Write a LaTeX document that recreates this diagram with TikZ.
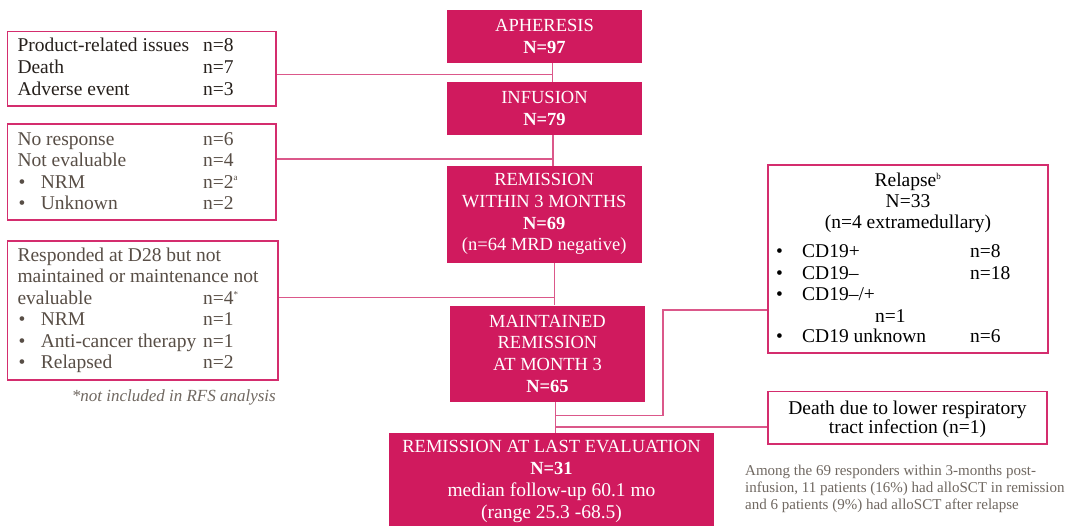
\documentclass[tikz,border=0pt]{standalone}
\usepackage{fontspec}
\setmainfont{Liberation Serif}
\definecolor{mag}{RGB}{208,26,94}
\definecolor{edge}{RGB}{212,45,110}
\definecolor{conncol}{RGB}{219,88,138}
\definecolor{txtA}{RGB}{38,32,28}
\definecolor{txtB}{RGB}{88,78,70}
\definecolor{txtC}{RGB}{112,104,97}
\newcommand{\fsL}{\fontsize{19.5}{21.7}\selectfont}
\newcommand{\fsC}{\fontsize{18.5}{21.7}\selectfont}
\newcommand{\fsS}{\fontsize{15}{17}\selectfont}
\newcommand{\fsF}{\fontsize{17}{19}\selectfont}
\tikzset{
  magbox/.style={fill=mag, draw=none, text=white, align=center, inner sep=0, font=\fsC},
  outbox/.style={draw=edge, line width=1.1pt, fill=white, inner sep=0},
  conn/.style={draw=conncol, line width=1.2pt},
  tl/.style={anchor=base west, inner sep=0, font=\fsL},
  tc/.style={anchor=base, inner sep=0, font=\fsL},
}
\begin{document}
\begin{tikzpicture}[x=1pt,y=-1pt]
\useasboundingbox[fill=white] (0,0) rectangle (1068,526);
% centre column
\node[magbox, minimum width=195pt, minimum height=53pt] (aph) at (544.5,36.5) {APHERESIS\\\textbf{N=97}};
\node[magbox, minimum width=195pt, minimum height=53pt] (inf) at (544.5,108.5) {INFUSION\\\textbf{N=79}};
\node[magbox, minimum width=195pt, minimum height=96.7pt] (rem) at (544.2,214.3) {REMISSION\\WITHIN 3 MONTHS\\\textbf{N=69}\\(n=64 MRD negative)};
\node[magbox, minimum width=195pt, minimum height=96pt] (mnt) at (547.5,353.7) {MAINTAINED\\REMISSION\\AT MONTH 3\\\textbf{N=65}};
\node[magbox, minimum width=325pt, minimum height=97pt] (last) at (551.5,481.5) {REMISSION AT LAST EVALUATION\\\textbf{N=31}\\{\fontsize{19.5}{21.7}\selectfont median follow-up 60.1 mo}\\{\fontsize{19.5}{21.7}\selectfont (range 25.3 -68.5)}};
% left boxes
\node[outbox, minimum width=268.5pt, minimum height=74.5pt] (b1) at (141.75,68.75) {};
\node[outbox, minimum width=268.5pt, minimum height=96pt] (b2) at (141.75,172) {};
\node[outbox, minimum width=270.5pt, minimum height=139pt] (b3) at (142.75,310.5) {};
% right boxes
\node[outbox, minimum width=280pt, minimum height=188pt] (rel) at (908,259) {};
\node[outbox, minimum width=279pt, minimum height=52.5pt] (dth) at (907.5,417.75) {};
% connector points
\coordinate (t1) at (552.5,0);
\coordinate (t2) at (553,0);
\coordinate (t3) at (554.5,0);
\coordinate (t4) at (555.5,0);
\coordinate (h1) at (552.5,74.5);
\coordinate (h2) at (553,159);
\coordinate (h3) at (554.5,297.5);
\coordinate (h4) at (555.5,415.5);
\coordinate (k1) at (663,415.5);
\coordinate (k2) at (663,310);
\coordinate (h5) at (555.5,427);
% trunk
\draw[conn] (aph.south -| t1) -- (inf.north -| t1);
\draw[conn] (inf.south -| t2) -- (rem.north -| t2);
\draw[conn] (rem.south -| t3) -- (mnt.north -| t3);
\draw[conn] (mnt.south -| t4) -- (last.north -| t4);
% side links
\draw[conn] (b1.east |- h1) -- (h1);
\draw[conn] (b2.east |- h2) -- (h2);
\draw[conn] (b3.east |- h3) -- (h3);
\draw[conn] (h4) -- (k1) -- (k2) -- (rel.west |- k2);
\draw[conn] (h5) -- (dth.west |- h5);
% box 1 text
\begin{scope}[every node/.style={text=txtA}]
\node[tl] (b1a) at (17.3,51.7) {Product-related issues};
\node[tl] (b1b) at (203,51.7) {n=8};
\node[tl] (b1c) at (17.3,74) {Death};
\node[tl] (b1d) at (203,74) {n=7};
\node[tl] (b1e) at (17.3,95.7) {Adverse event};
\node[tl] (b1f) at (203,95.7) {n=3};
\end{scope}
% box 2 text
\begin{scope}[every node/.style={text=txtB}]
\node[tl] (b2a) at (17.3,146) {No response};
\node[tl] (b2b) at (203,146) {n=6};
\node[tl] (b2c) at (17.3,166.7) {Not evaluable};
\node[tl] (b2d) at (203,166.7) {n=4};
\node[tl] (b2e) at (18.5,188.3) {\textbullet};
\node[tl] (b2f) at (40.7,188.3) {NRM};
\node[tl] (b2g) at (203,188.3) {n=2\textsuperscript{\fontsize{9}{9}\selectfont a}};
\node[tl] (b2h) at (18.5,209.3) {\textbullet};
\node[tl] (b2i) at (40.7,209.3) {Unknown};
\node[tl] (b2j) at (203,209.3) {n=2};
% box 3 text
\node[tl] (b3a) at (17.3,261.7) {Responded at D28 but not};
\node[tl] (b3b) at (17.3,283) {maintained or maintenance not};
\node[tl] (b3c) at (17.3,305) {evaluable};
\node[tl] (b3d) at (203,305) {n=4\textsuperscript{\fontsize{9}{9}\selectfont *}};
\node[tl] (b3e) at (18.5,325.7) {\textbullet};
\node[tl] (b3f) at (40.7,325.7) {NRM};
\node[tl] (b3g) at (203,325.7) {n=1};
\node[tl] (b3h) at (18.5,347.3) {\textbullet};
\node[tl] (b3i) at (40.7,347.3) {Anti-cancer therapy};
\node[tl] (b3j) at (203,347.3) {n=1};
\node[tl] (b3k) at (18.5,368.3) {\textbullet};
\node[tl] (b3l) at (40.7,368.3) {Relapsed};
\node[tl] (b3m) at (203,368.3) {n=2};
\end{scope}
\node[anchor=base east, inner sep=0, font=\fsF\itshape, text=txtC] (fn) at (276,401.7) {*not included in RFS analysis};
% relapse box text
\node[tc] (r1) at (908,187) {Relapse\textsuperscript{\fontsize{9}{9}\selectfont b}};
\node[tc] (r2) at (908,208) {N=33};
\node[tc] (r3) at (908,229) {(n=4 extramedullary)};
\node[tl] (r4) at (776,257.7) {\textbullet};
\node[tl] (r5) at (802,257.7) {CD19+};
\node[tl] (r6) at (970,257.7) {n=8};
\node[tl] (r7) at (776,279.3) {\textbullet};
\node[tl] (r8) at (802,279.3) {CD19–};
\node[tl] (r9) at (970,279.3) {n=18};
\node[tl] (r10) at (776,300.7) {\textbullet};
\node[tl] (r11) at (802,300.7) {CD19–/+};
\node[tl] (r12) at (875,322.3) {n=1};
\node[tl] (r13) at (776,342.7) {\textbullet};
\node[tl] (r14) at (802,342.7) {CD19 unknown};
\node[tl] (r15) at (970,342.7) {n=6};
% death box text
\node[tc] (d1) at (907.5,414.3) {Death due to lower respiratory};
\node[tc] (d2) at (907.5,433.3) {tract infection (n=1)};
% note
\begin{scope}[every node/.style={anchor=base west, inner sep=0, font=\fsS, text=txtC}]
\node (n1) at (745,475) {Among the 69 responders within 3-months post-};
\node (n2) at (745,492) {infusion, 11 patients (16\%) had alloSCT in remission};
\node (n3) at (745,509) {and 6 patients (9\%) had alloSCT after relapse};
\end{scope}
\end{tikzpicture}
\end{document}
